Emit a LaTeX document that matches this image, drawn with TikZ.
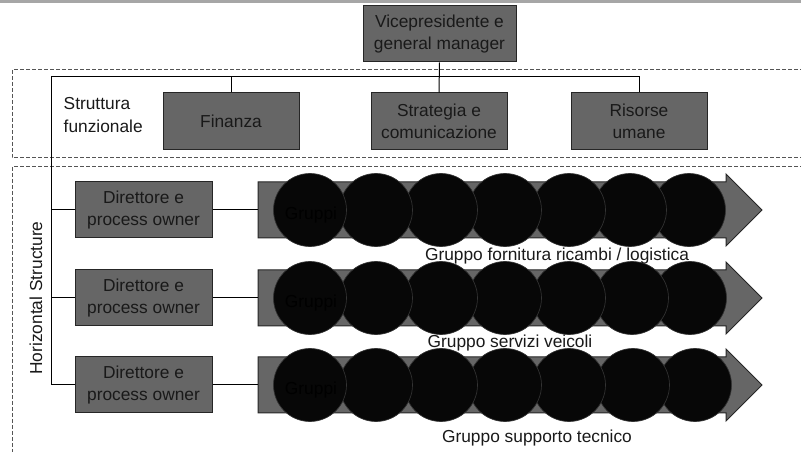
\documentclass[tikz,border=0pt]{standalone}
\usepackage{fontspec}
\setmainfont{Liberation Sans}
\definecolor{boxgray}{HTML}{666666}
\definecolor{bandgray}{HTML}{A6A6A6}
\definecolor{dashgray}{HTML}{555555}
\definecolor{dotfill}{HTML}{070707}
\tikzset{
  lbl/.style={font=\fontsize{13pt}{16.5pt}\selectfont, text=black!90},
  box/.style={lbl, draw=black!85, fill=boxgray, line width=0.75pt,
    inner sep=0pt, align=center},
  topbox/.style={box, minimum width=102pt, minimum height=42.75pt},
  dirbox/.style={box, minimum width=102.75pt, minimum height=42pt},
  dot/.style={circle, draw=black!80, fill=dotfill, line width=0.5pt,
    minimum size=54.75pt, inner sep=0pt},
  conn/.style={draw=black, line width=0.75pt},
  frame/.style={draw=dashgray, line width=0.75pt, dash pattern=on 3pt off 1.5pt},
  flow/.style={draw=black!85, fill=boxgray, line width=0.75pt},
}
% one process row: arrow, gray bar, chain of circles
\newcommand{\procrow}[3]{%
  \fill[flow] (258,#1-28) -- (726,#1-28) -- (726,#1-36) -- (762,#1)
    -- (726,#1+36) -- (726,#1+28) -- (258,#1+28) -- cycle;
  \coordinate (#2arr) at (258,#1);
  \foreach \cx [count=\k] in {#3} {\coordinate (#2c\k) at (\cx,#1);}
  \foreach \k in {7,6,...,1} {\node[dot] (#2dot\k) at (#2c\k) {};}
  \node[lbl, text=black] (#2gr) at (311,#1+5) {Gruppi};
}
\begin{document}
\begin{tikzpicture}[x=0.75pt,y=-0.75pt]
\clip (0,0) rectangle (801,452);
\useasboundingbox (0,0) rectangle (801,452);

% header band
\fill[bandgray] (0,0) rectangle (801,3.5);

% dashed frames
\draw[frame] (12,70) rectangle (830,158);
\draw[frame] (12,167) rectangle (830,480);

% top management and functional units
\node[box, minimum width=114.75pt, minimum height=42pt] (vp) at (439.5,34)
  {Vicepresidente e\\general manager};
\node[topbox] (fin) at (231,121.5) {Finanza};
\node[topbox] (str) at (439,121.5) {Strategia e\\comunicazione};
\node[topbox] (ris) at (639,121.5) {Risorse\\umane};
\node[lbl, align=left, anchor=west, font=\fontsize{13pt}{17.5pt}\selectfont]
  (sf) at (59,115) {Struttura\\funzionale};

% process owners
\node[dirbox] (d1) at (143.5,210) {Direttore e\\process owner};
\node[dirbox] (d2) at (143.5,298) {Direttore e\\process owner};
\node[dirbox] (d3) at (143.5,385) {Direttore e\\process owner};
\node[lbl, rotate=90] (hs) at (36,298) {Horizontal Structure};

% tree connectors
\coordinate (bus) at (51,77);
\draw[conn] (vp.south) -- (str.north);
\draw[conn] (bus) -| (ris.north);
\draw[conn] (fin.north) -- (fin.north |- bus);
\draw[conn] (bus) |- (d3.west);
\draw[conn] (bus |- d1.west) -- (d1.west);
\draw[conn] (bus |- d2.west) -- (d2.west);

% process rows
\procrow{210}{pa}{310,376,441,505,569,630,689}
\procrow{298}{pb}{310,376,441,505,569,632,690}
\procrow{385}{pc}{310,376,441,505,569,633,695}
\draw[conn] (d1.east) -- (paarr);
\draw[conn] (d2.east) -- (pbarr);
\draw[conn] (d3.east) -- (pcarr);

% row captions
\node[lbl] (ga) at (557,256) {Gruppo fornitura ricambi / logistica};
\node[lbl] (gb) at (510,343) {Gruppo servizi veicoli};
\node[lbl] (gc) at (537,438) {Gruppo supporto tecnico};
\end{tikzpicture}
\end{document}
